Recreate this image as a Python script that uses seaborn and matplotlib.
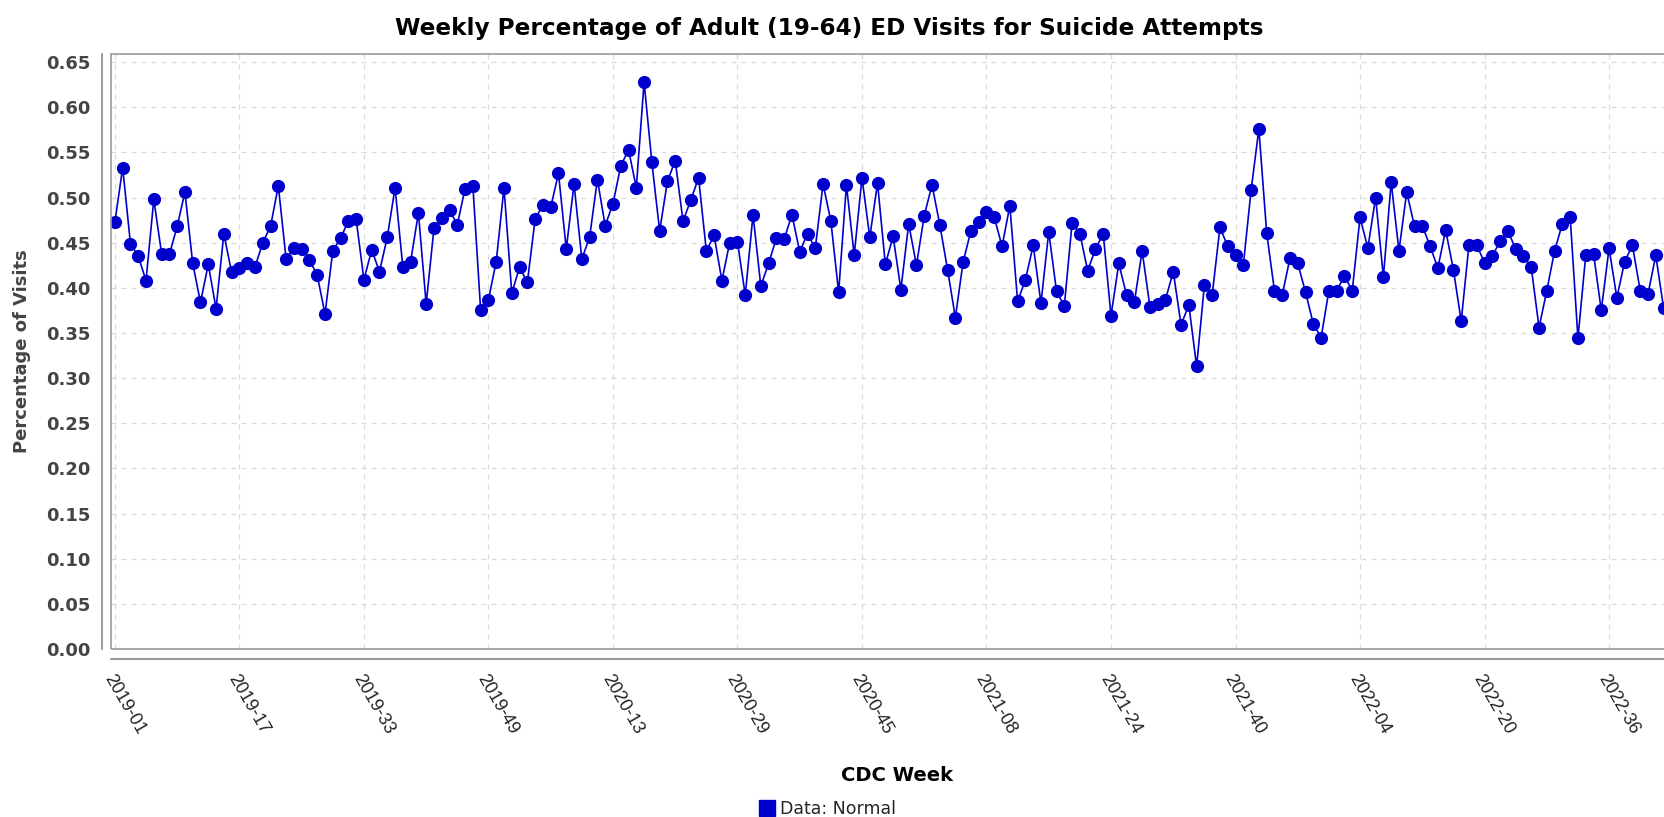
import matplotlib
matplotlib.use('Agg')
import matplotlib.pyplot as plt
from matplotlib.lines import Line2D
from matplotlib.patches import Rectangle
import numpy as np
import pandas as pd
import seaborn as sns

# weekly % of adult (19-64) ED visits for suicide attempts
pct_visits = [
    0.473, 0.533, 0.449, 0.435, 0.408, 0.498, 0.438, 0.437, 0.468, 0.506,
    0.427, 0.384, 0.426, 0.377, 0.460, 0.417, 0.422, 0.427, 0.423, 0.450,
    0.468, 0.513, 0.432, 0.444, 0.443, 0.431, 0.414, 0.371, 0.441, 0.455,
    0.474, 0.476, 0.409, 0.442, 0.418, 0.456, 0.511, 0.423, 0.429, 0.483,
    0.382, 0.466, 0.477, 0.486, 0.470, 0.510, 0.513, 0.375, 0.387, 0.429,
    0.511, 0.394, 0.423, 0.406, 0.476, 0.492, 0.489, 0.527, 0.443, 0.515,
    0.432, 0.456, 0.520, 0.469, 0.493, 0.535, 0.553, 0.511, 0.628, 0.539,
    0.463, 0.518, 0.541, 0.474, 0.497, 0.522, 0.441, 0.458, 0.408, 0.450,
    0.451, 0.392, 0.481, 0.402, 0.427, 0.455, 0.454, 0.481, 0.440, 0.460,
    0.444, 0.515, 0.474, 0.395, 0.514, 0.436, 0.522, 0.456, 0.516, 0.426,
    0.457, 0.398, 0.471, 0.425, 0.480, 0.514, 0.470, 0.420, 0.367, 0.429,
    0.463, 0.473, 0.484, 0.478, 0.446, 0.491, 0.385, 0.409, 0.447, 0.383,
    0.462, 0.396, 0.380, 0.472, 0.460, 0.419, 0.443, 0.460, 0.369, 0.427,
    0.392, 0.384, 0.441, 0.379, 0.382, 0.387, 0.418, 0.359, 0.381, 0.313,
    0.403, 0.392, 0.467, 0.446, 0.436, 0.425, 0.508, 0.576, 0.461, 0.397,
    0.392, 0.433, 0.427, 0.395, 0.360, 0.345, 0.397, 0.397, 0.413, 0.397,
    0.478, 0.444, 0.500, 0.412, 0.517, 0.441, 0.506, 0.468, 0.469, 0.446,
    0.422, 0.464, 0.420, 0.363, 0.448, 0.447, 0.428, 0.435, 0.452, 0.463,
    0.443, 0.435, 0.423, 0.356, 0.397, 0.441, 0.471, 0.479, 0.344, 0.436,
    0.438, 0.375, 0.444, 0.389, 0.429, 0.447, 0.397, 0.393, 0.436, 0.378,
    0.360,
]

years = [2019, 2020, 2021, 2022]
weeks_in_year = [52, 53, 52, 52]
tick_labels = ['2019-01', '2019-17', '2019-33', '2019-49', '2020-13', '2020-29', '2020-45',
               '2021-08', '2021-24', '2021-40', '2022-04', '2022-20', '2022-36']
y_ticks = [0.00, 0.05, 0.10, 0.15, 0.20, 0.25, 0.30, 0.35, 0.40, 0.45, 0.50, 0.55, 0.60, 0.65]

cdc_weeks = []
for yr, n in zip(years, weeks_in_year):
    cdc_weeks += ['{}-{:02d}'.format(yr, w) for w in range(1, n + 1)]
cdc_weeks = cdc_weeks[:len(pct_visits)]

df = pd.DataFrame({'week': cdc_weeks, 'pos': np.arange(len(pct_visits)), 'pct': pct_visits})

sns.set_style('white')
plt.rcParams['font.family'] = ['DejaVu Sans']

W, H = 1665, 817
fig = plt.figure(figsize=(W / 100, H / 100), dpi=100)
# plot area runs off the right edge of the image, like the original screenshot
ax = fig.add_axes([111 / W, 1 - 649 / H, 1572 / W, 595 / H])

sns.lineplot(data=df, x='pos', y='pct', color='#0000cc', lw=1.2, marker='o', markersize=9.5,
             markeredgewidth=0, ax=ax, legend=False)

ax.set_xlim(-0.5, 201.5)
ax.set_ylim(0, 0.659)

ax.grid(True, color='#dadada', linestyle=(0, (4, 4)), lw=0.9)

for s in ('top', 'right'):
    ax.spines[s].set_visible(False)
ax.spines['left'].set_position(('outward', 6.5))
ax.spines['bottom'].set_position(('outward', 7.2))
for s in ('left', 'bottom'):
    ax.spines[s].set_color('#888888')
    ax.spines[s].set_linewidth(1.2)
ax.add_patch(Rectangle((0, 0), 1, 1, transform=ax.transAxes, fill=False, ec='#999999',
                       lw=1.2, clip_on=False, zorder=5))
ax.tick_params(axis='y', length=2.5, width=1, color='#888888', pad=6)
ax.tick_params(axis='x', length=3, width=1, color='#888888', pad=6)

ax.set_yticks(y_ticks)
ax.set_yticklabels(['{:.2f}'.format(v) for v in y_ticks])
ax.set_xticks([cdc_weeks.index(t) for t in tick_labels])
ax.set_xticklabels(tick_labels)
plt.setp(ax.get_yticklabels(), fontsize=13, fontweight='bold', color='#444444')
plt.setp(ax.get_xticklabels(), rotation=-60, ha='left', va='top', rotation_mode='anchor',
         fontsize=13, color='#222222', family=['Liberation Sans', 'DejaVu Sans'])

ax.set_xlabel('CDC Week', fontsize=14, fontweight='bold', color='black')
ax.xaxis.set_label_coords(0.5, (649 - 766) / 595)
ax.set_ylabel('Percentage of Visits', fontsize=13, fontweight='bold', color='#444444')
ax.yaxis.set_label_coords((31 - 111) / 1572, 0.5)

fig.text(829 / W, 1 - 29 / H, 'Weekly Percentage of Adult (19-64) ED Visits for Suicide Attempts',
         ha='center', va='center', fontsize=16.7, fontweight='bold', color='black')

handle = Line2D([], [], marker='s', ls='', color='#0000cc', markersize=11)
fig.legend(handles=[handle], labels=['Data: Normal'], loc='center',
           bbox_to_anchor=(828 / W, 1 - 809 / H), frameon=False, fontsize=12.5,
           handlelength=0.8, handletextpad=0.4)

fig.savefig('out.png', dpi=100)
